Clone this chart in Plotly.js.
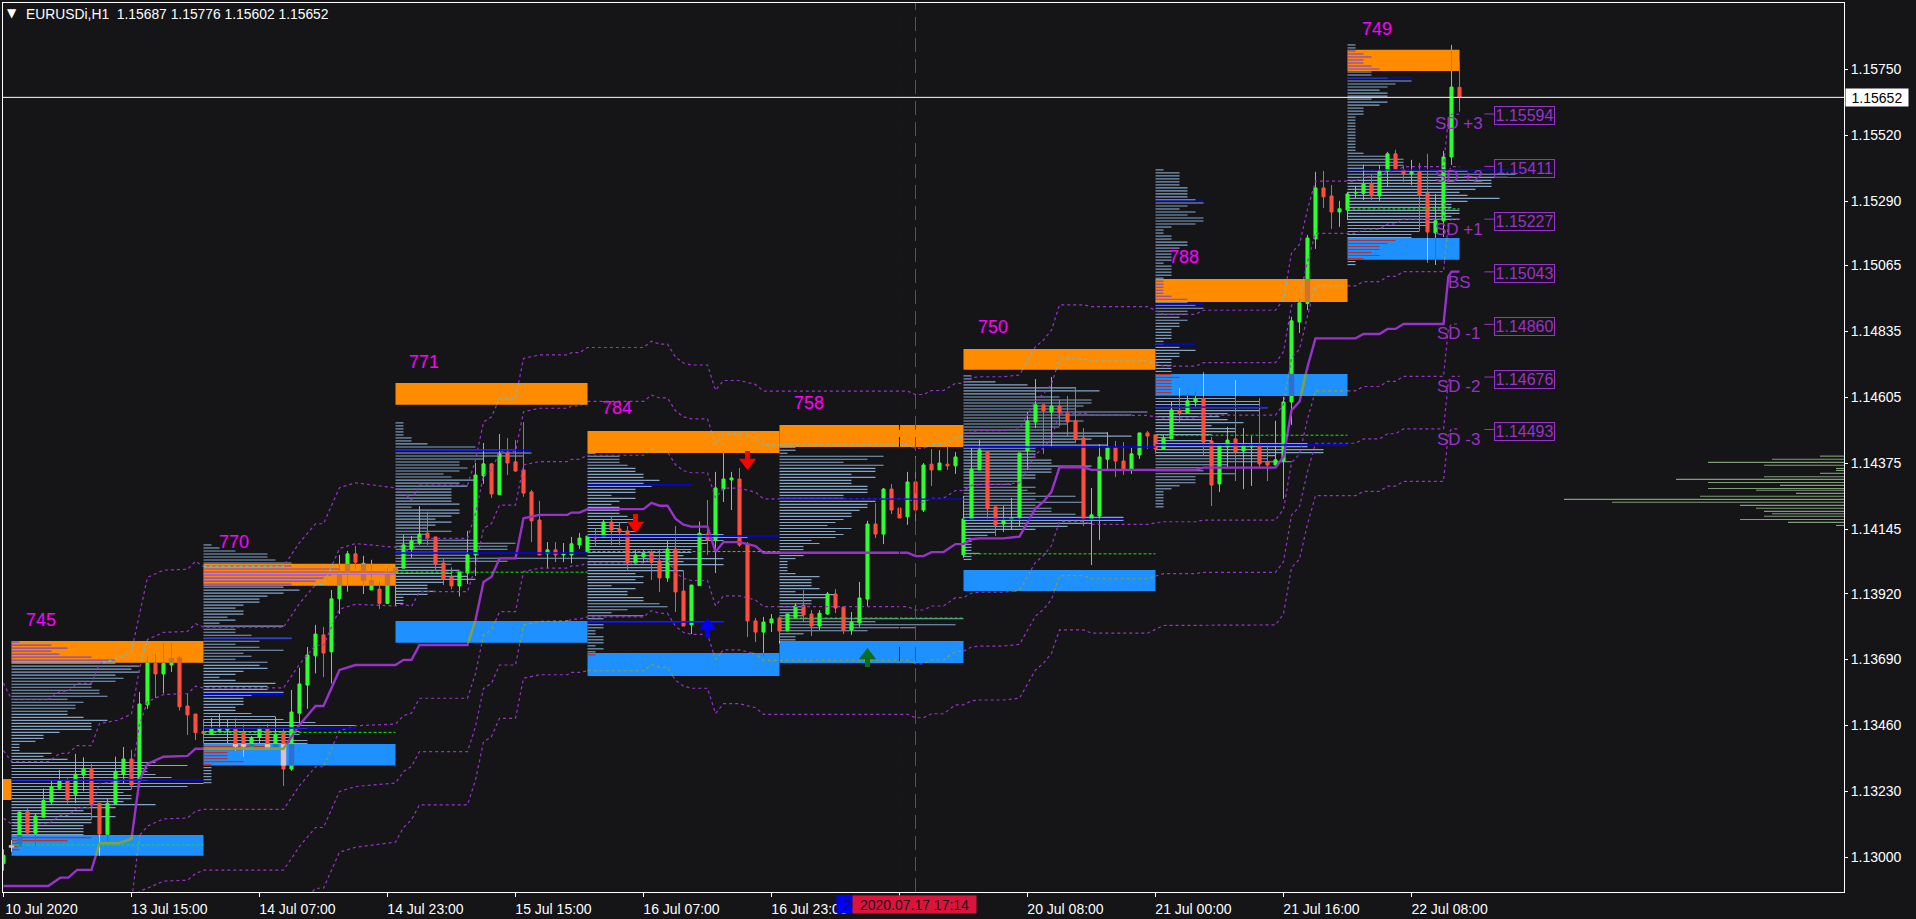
<!DOCTYPE html>
<html><head><meta charset="utf-8"><title>EURUSDi,H1</title>
<script src="https://cdn.plot.ly/plotly-3.0.1.min.js"></script>
<style>html,body{margin:0;padding:0;background:#151518;overflow:hidden}#chart{width:1916px;height:919px}</style>
</head><body><div id="chart"></div>
<script>
const open=[1.12978,1.13042,1.13037,1.13159,1.13084,1.13140,1.13193,1.13241,1.13268,1.13220,
1.13287,1.13309,1.13188,1.13080,1.13188,1.13290,1.13343,1.13270,1.13532,1.13676,
1.13640,1.13671,1.13696,1.13528,1.13500,1.13439,1.13430,1.13443,1.13444,1.13448,
1.13435,1.13386,1.13418,1.13448,1.13383,1.13435,1.13308,1.13503,1.13601,1.13703,
1.13776,1.13717,1.13902,1.13989,1.14059,1.13964,1.13933,1.13936,1.13886,1.13991,
1.14009,1.14076,1.14096,1.14131,1.14118,1.14027,1.13978,1.13947,1.13992,1.14055,
1.14331,1.14373,1.14265,1.14411,1.14380,1.14352,1.14275,1.14177,1.14059,1.14073,
1.14055,1.14055,1.14090,1.14066,1.14119,1.14118,1.14170,1.14146,1.14139,1.14027,
1.14048,1.14062,1.14034,1.13975,1.14076,1.13929,1.13811,1.13948,1.14128,1.14107,
1.14285,1.14317,1.14320,1.14090,1.13825,1.13786,1.13818,1.13835,1.13790,1.13835,
1.13879,1.13849,1.13807,1.13849,1.13919,1.13873,1.13793,1.13818,1.13901,1.14163,
1.14128,1.14285,1.14219,1.14188,1.14310,1.14212,1.14372,1.14352,1.14372,1.14366,
1.14055,1.14181,1.14352,1.14415,1.14223,1.14163,1.14177,1.14184,1.14418,1.14519,
1.14579,1.14554,1.14575,1.14551,1.14523,1.14463,1.14181,1.14191,1.14389,1.14429,
1.14383,1.14355,1.14404,1.14481,1.14474,1.14425,1.14460,1.14558,1.14551,1.14589,
1.14600,1.14453,1.14303,1.14432,1.14460,1.14418,1.14432,1.14436,1.14380,1.14369,
1.14383,1.14589,1.14868,1.14933,1.15158,1.15336,1.15308,1.15252,1.15259,1.15318,
1.15317,1.15350,1.15308,1.15395,1.15455,1.15399,1.15385,1.15392,1.15317,1.15179,
1.15221,1.15444,1.15687];
const high=[1.13028,1.13060,1.13160,1.13171,1.13154,1.13240,1.13266,1.13305,1.13277,1.13361,
1.13349,1.13326,1.13188,1.13204,1.13351,1.13385,1.13375,1.13577,1.13703,1.13710,
1.13747,1.13747,1.13703,1.13572,1.13500,1.13482,1.13486,1.13503,1.13483,1.13485,
1.13464,1.13423,1.13455,1.13465,1.13490,1.13447,1.13584,1.13662,1.13734,1.13811,
1.13804,1.13933,1.14055,1.14069,1.14087,1.14052,1.14038,1.13962,1.14009,1.14009,
1.14125,1.14121,1.14226,1.14206,1.14118,1.14045,1.14012,1.13996,1.14139,1.14376,
1.14446,1.14376,1.14477,1.14463,1.14456,1.14519,1.14282,1.14244,1.14100,1.14100,
1.14097,1.14118,1.14132,1.14121,1.14147,1.14177,1.14188,1.14167,1.14156,1.14072,
1.14072,1.14072,1.14072,1.14107,1.14156,1.13999,1.13950,1.14172,1.14247,1.14345,
1.14417,1.14345,1.14359,1.14100,1.13835,1.13839,1.13849,1.13840,1.13849,1.13887,
1.13933,1.13863,1.13863,1.13926,1.13936,1.13877,1.13856,1.13961,1.14174,1.14236,
1.14289,1.14303,1.14247,1.14345,1.14400,1.14376,1.14425,1.14421,1.14435,1.14414,
1.14261,1.14429,1.14456,1.14415,1.14223,1.14226,1.14254,1.14411,1.14554,1.14669,
1.14579,1.14676,1.14596,1.14610,1.14641,1.14498,1.14289,1.14442,1.14484,1.14453,
1.14449,1.14429,1.14481,1.14488,1.14474,1.14474,1.14589,1.14638,1.14620,1.14624,
1.14694,1.14467,1.14436,1.14502,1.14666,1.14498,1.14470,1.14603,1.14446,1.14523,
1.14607,1.14886,1.14952,1.15172,1.15392,1.15395,1.15346,1.15291,1.15322,1.15343,
1.15417,1.15385,1.15416,1.15462,1.15469,1.15413,1.15434,1.15423,1.15455,1.15315,
1.15465,1.15835,1.15776];
const low=[1.12953,1.13020,1.13034,1.13078,1.13037,1.13140,1.13183,1.13235,1.13187,1.13189,
1.13231,1.13134,1.13005,1.13055,1.13188,1.13258,1.13238,1.13258,1.13518,1.13556,
1.13572,1.13647,1.13512,1.13427,1.13409,1.13398,1.13430,1.13439,1.13398,1.13372,
1.13351,1.13386,1.13398,1.13383,1.13383,1.13249,1.13302,1.13468,1.13518,1.13642,
1.13629,1.13607,1.13849,1.13927,1.14006,1.13919,1.13933,1.13867,1.13886,1.13877,
1.14009,1.14045,1.14090,1.14090,1.13999,1.13950,1.13935,1.13910,1.13954,1.13982,
1.14303,1.14254,1.14265,1.14334,1.14345,1.14258,1.14100,1.14055,1.14009,1.14030,
1.14030,1.14026,1.14076,1.14066,1.14084,1.14114,1.14090,1.14090,1.13999,1.14020,
1.14027,1.13968,1.13926,1.13961,1.13856,1.13807,1.13779,1.13948,1.14055,1.13992,
1.14240,1.14212,1.14083,1.13769,1.13751,1.13702,1.13786,1.13747,1.13790,1.13832,
1.13821,1.13772,1.13793,1.13846,1.13852,1.13779,1.13776,1.13804,1.13877,1.14114,
1.14093,1.14198,1.14184,1.14160,1.14160,1.14205,1.14296,1.14352,1.14352,1.14338,
1.14045,1.14181,1.14352,1.14181,1.14121,1.14135,1.14142,1.14156,1.14352,1.14498,
1.14408,1.14432,1.14505,1.14467,1.14446,1.14156,1.14020,1.14107,1.14355,1.14327,
1.14334,1.14338,1.14390,1.14425,1.14408,1.14425,1.14460,1.14516,1.14551,1.14572,
1.14401,1.14226,1.14275,1.14359,1.14313,1.14285,1.14296,1.14359,1.14313,1.14369,
1.14251,1.14509,1.14830,1.14910,1.15123,1.15266,1.15193,1.15200,1.15224,1.15301,
1.15294,1.15294,1.15291,1.15339,1.15399,1.15357,1.15346,1.15186,1.15074,1.15067,
1.15165,1.15416,1.15602];
const close=[1.13007,1.13034,1.13158,1.13085,1.13144,1.13198,1.13247,1.13268,1.13201,1.13290,
1.13309,1.13183,1.13081,1.13188,1.13300,1.13343,1.13252,1.13535,1.13678,1.13640,
1.13676,1.13696,1.13525,1.13497,1.13435,1.13432,1.13448,1.13448,1.13448,1.13386,
1.13386,1.13418,1.13448,1.13383,1.13429,1.13308,1.13507,1.13605,1.13706,1.13779,
1.13713,1.13902,1.13991,1.14059,1.14030,1.14026,1.13968,1.13886,1.13996,1.14009,
1.14090,1.14104,1.14128,1.14114,1.14024,1.13970,1.13947,1.13996,1.14055,1.14334,
1.14373,1.14268,1.14408,1.14376,1.14348,1.14271,1.14174,1.14055,1.14073,1.14055,
1.14059,1.14094,1.14114,1.14121,1.14114,1.14170,1.14142,1.14135,1.14027,1.14055,
1.14061,1.14030,1.13975,1.14076,1.13926,1.13807,1.13950,1.14131,1.14107,1.14289,
1.14320,1.14324,1.14090,1.13825,1.13786,1.13821,1.13832,1.13790,1.13849,1.13877,
1.13846,1.13807,1.13852,1.13919,1.13870,1.13793,1.13821,1.13905,1.14163,1.14128,
1.14285,1.14212,1.14184,1.14310,1.14212,1.14369,1.14352,1.14376,1.14366,1.14397,
1.14181,1.14355,1.14422,1.14216,1.14160,1.14177,1.14184,1.14411,1.14523,1.14579,
1.14558,1.14575,1.14551,1.14519,1.14460,1.14181,1.14195,1.14397,1.14429,1.14383,
1.14355,1.14408,1.14481,1.14470,1.14425,1.14463,1.14561,1.14551,1.14593,1.14600,
1.14449,1.14299,1.14436,1.14456,1.14415,1.14436,1.14436,1.14373,1.14369,1.14387,
1.14589,1.14872,1.14935,1.15161,1.15336,1.15305,1.15252,1.15263,1.15315,1.15320,
1.15350,1.15308,1.15395,1.15455,1.15402,1.15385,1.15392,1.15310,1.15182,1.15221,
1.15444,1.15688,1.15652];

const tickBars=[0,16,32,48,64,80,96,112,128,144,160,176];
const tickDates=['10 Jul 2020','13 Jul 15:00','14 Jul 07:00','14 Jul 23:00','15 Jul 15:00','16 Jul 07:00','16 Jul 23:00','','20 Jul 08:00','21 Jul 00:00','21 Jul 16:00','22 Jul 08:00'];
const priceTicks=[1.13,1.1323,1.1346,1.1369,1.1392,1.14145,1.14375,1.14605,1.14835,1.15065,1.1529,1.1552,1.1575];
const priceTickText=['1.13000','1.13230','1.13460','1.13690','1.13920','1.14145','1.14375','1.14605','1.14835','1.15065','1.15290','1.15520','1.15750'];

const sessionFrom=[1,25,49,73,97,120,144,168];
const sessionTo=[25,49,73,97,120,144,168,182];
const sessionCount=['745','770','771','784','758','750','788','749'];
const countBar=[4.65,28.75,52.6,76.7,100.65,123.7,147.5,171.7];
const countPrice=[1.13828,1.14100,1.14729,1.14568,1.14584,1.14851,1.15095,1.15891];
const orangeTop=[1.13755,1.14024,1.14655,1.14488,1.14509,1.14774,1.15018,1.15818];
const orangeBottom=[1.13679,1.13948,1.14579,1.14411,1.14432,1.14701,1.14938,1.15744];
const blueTop=[1.13078,1.13395,1.13825,1.13713,1.13755,1.14003,1.14687,1.15161];
const blueBottom=[1.13005,1.13320,1.13749,1.13633,1.13678,1.13929,1.14610,1.15085];
const previousOrange=[1.13273,1.13200];

const vwapBars=[0,1,5.6,7.1,8.1,9.2,11,12,14.4,16,17,18,20,23,24,25,35,37,39,40,42,44,49,50,51,52,58,59,60,61,62,64,65,67,70.5,71,72,73,80,81,82,83,84,85,86,88,89,90,92,94,95,113,114,115,116,117.5,119,120,121,122,125,127,129,130,131,132,135,136,143,145,149,150,159,160,161,162,163,164,169,170,172,173,174,175,180,180.6,181,182];
const vwap=[1.12900,1.12900,1.12900,1.12929,1.12929,1.12956,1.12956,1.13049,1.13049,1.13064,
1.13270,1.13326,1.13351,1.13354,1.13379,1.13379,1.13379,1.13462,1.13528,1.13528,
1.13654,1.13671,1.13671,1.13689,1.13689,1.13741,1.13741,1.13828,1.13961,1.13979,
1.14043,1.14043,1.14183,1.14195,1.14195,1.14203,1.14203,1.14215,1.14215,1.14237,
1.14227,1.14227,1.14182,1.14161,1.14154,1.14154,1.14066,1.14100,1.14100,1.14086,
1.14063,1.14063,1.14051,1.14051,1.14065,1.14065,1.14093,1.14093,1.14110,1.14113,
1.14113,1.14119,1.14218,1.14241,1.14276,1.14361,1.14361,1.14352,1.14352,1.14352,
1.14352,1.14360,1.14360,1.14398,1.14560,1.14590,1.14712,1.14811,1.14811,1.14826,
1.14826,1.14844,1.14844,1.14861,1.14861,1.15026,1.15044,1.15044];
const sdPlus1=[1.13136,1.13117,1.13117,1.13146,1.13146,1.13173,1.13173,1.13258,1.13264,1.13282,
1.13464,1.13543,1.13568,1.13571,1.13597,1.13591,1.13591,1.13674,1.13740,1.13740,
1.13866,1.13883,1.13877,1.13884,1.13875,1.13927,1.13927,1.14014,1.14147,1.14165,
1.14229,1.14229,1.14369,1.14381,1.14381,1.14389,1.14389,1.14403,1.14403,1.14425,
1.14415,1.14415,1.14370,1.14349,1.14342,1.14342,1.14254,1.14288,1.14288,1.14274,
1.14251,1.14251,1.14239,1.14239,1.14253,1.14253,1.14280,1.14280,1.14298,1.14301,
1.14301,1.14307,1.14406,1.14429,1.14464,1.14550,1.14550,1.14542,1.14542,1.14533,
1.14533,1.14543,1.14543,1.14581,1.14743,1.14773,1.14895,1.14994,1.14994,1.15009,
1.15009,1.15027,1.15027,1.15044,1.15044,1.15209,1.15227,1.15227];
const sdPlus2=[1.13372,1.13334,1.13334,1.13363,1.13363,1.13390,1.13390,1.13467,1.13479,1.13500,
1.13658,1.13760,1.13785,1.13788,1.13815,1.13803,1.13803,1.13886,1.13952,1.13952,
1.14078,1.14095,1.14083,1.14079,1.14061,1.14113,1.14113,1.14200,1.14333,1.14351,
1.14415,1.14415,1.14555,1.14567,1.14567,1.14575,1.14575,1.14591,1.14591,1.14613,
1.14603,1.14603,1.14558,1.14537,1.14530,1.14530,1.14442,1.14476,1.14476,1.14462,
1.14439,1.14439,1.14427,1.14427,1.14441,1.14441,1.14467,1.14467,1.14486,1.14489,
1.14489,1.14495,1.14594,1.14617,1.14652,1.14739,1.14739,1.14732,1.14732,1.14714,
1.14714,1.14726,1.14726,1.14764,1.14926,1.14956,1.15078,1.15177,1.15177,1.15192,
1.15192,1.15210,1.15210,1.15227,1.15227,1.15392,1.15410,1.15410];
const sdPlus3=[1.13608,1.13551,1.13551,1.13580,1.13580,1.13607,1.13607,1.13676,1.13694,1.13718,
1.13852,1.13977,1.14002,1.14005,1.14033,1.14015,1.14015,1.14098,1.14164,1.14164,
1.14290,1.14307,1.14289,1.14274,1.14247,1.14299,1.14299,1.14386,1.14519,1.14537,
1.14601,1.14601,1.14741,1.14753,1.14753,1.14761,1.14761,1.14779,1.14779,1.14801,
1.14791,1.14791,1.14746,1.14725,1.14718,1.14718,1.14630,1.14664,1.14664,1.14650,
1.14627,1.14627,1.14615,1.14615,1.14629,1.14629,1.14654,1.14654,1.14674,1.14677,
1.14677,1.14683,1.14782,1.14805,1.14840,1.14928,1.14928,1.14922,1.14922,1.14895,
1.14895,1.14909,1.14909,1.14947,1.15109,1.15139,1.15261,1.15360,1.15360,1.15375,
1.15375,1.15393,1.15393,1.15410,1.15410,1.15575,1.15593,1.15593];
const sdMinus1=[1.12664,1.12683,1.12683,1.12712,1.12712,1.12739,1.12739,1.12840,1.12834,1.12846,
1.13076,1.13109,1.13134,1.13137,1.13161,1.13167,1.13167,1.13250,1.13316,1.13316,
1.13442,1.13459,1.13465,1.13494,1.13503,1.13555,1.13555,1.13642,1.13775,1.13793,
1.13857,1.13857,1.13997,1.14009,1.14009,1.14017,1.14017,1.14027,1.14027,1.14049,
1.14039,1.14039,1.13994,1.13973,1.13966,1.13966,1.13878,1.13912,1.13912,1.13898,
1.13875,1.13875,1.13863,1.13863,1.13877,1.13877,1.13906,1.13906,1.13922,1.13925,
1.13925,1.13931,1.14030,1.14053,1.14088,1.14172,1.14172,1.14162,1.14162,1.14171,
1.14171,1.14177,1.14177,1.14215,1.14377,1.14407,1.14529,1.14628,1.14628,1.14643,
1.14643,1.14661,1.14661,1.14678,1.14678,1.14843,1.14861,1.14861];
const sdMinus2=[1.12428,1.12466,1.12466,1.12495,1.12495,1.12522,1.12522,1.12631,1.12619,1.12628,
1.12882,1.12892,1.12917,1.12920,1.12943,1.12955,1.12955,1.13038,1.13104,1.13104,
1.13230,1.13247,1.13259,1.13299,1.13317,1.13369,1.13369,1.13456,1.13589,1.13607,
1.13671,1.13671,1.13811,1.13823,1.13823,1.13831,1.13831,1.13839,1.13839,1.13861,
1.13851,1.13851,1.13806,1.13785,1.13778,1.13778,1.13690,1.13724,1.13724,1.13710,
1.13687,1.13687,1.13675,1.13675,1.13689,1.13689,1.13719,1.13719,1.13734,1.13737,
1.13737,1.13743,1.13842,1.13865,1.13900,1.13983,1.13983,1.13972,1.13972,1.13990,
1.13990,1.13994,1.13994,1.14032,1.14194,1.14224,1.14346,1.14445,1.14445,1.14460,
1.14460,1.14478,1.14478,1.14495,1.14495,1.14660,1.14678,1.14678];
const sdMinus3=[1.12192,1.12249,1.12249,1.12278,1.12278,1.12305,1.12305,1.12422,1.12404,1.12410,
1.12688,1.12675,1.12700,1.12703,1.12725,1.12743,1.12743,1.12826,1.12892,1.12892,
1.13018,1.13035,1.13053,1.13104,1.13131,1.13183,1.13183,1.13270,1.13403,1.13421,
1.13485,1.13485,1.13625,1.13637,1.13637,1.13645,1.13645,1.13651,1.13651,1.13673,
1.13663,1.13663,1.13618,1.13597,1.13590,1.13590,1.13502,1.13536,1.13536,1.13522,
1.13499,1.13499,1.13487,1.13487,1.13501,1.13501,1.13532,1.13532,1.13546,1.13549,
1.13549,1.13555,1.13654,1.13677,1.13712,1.13794,1.13794,1.13782,1.13782,1.13809,
1.13809,1.13811,1.13811,1.13849,1.14011,1.14041,1.14163,1.14262,1.14262,1.14277,
1.14277,1.14295,1.14295,1.14312,1.14312,1.14477,1.14495,1.14495];

const profileTop=[1.13751,1.14090,1.14516,1.14410,1.14431,1.14680,1.15399,1.15835];
const profile1=[1,5,7,5,6,10,13,13,16,15,16,13,14,13,10,10,11,11,12,7,9,8,8,7,7,9,12,10,10,10,6,4,4,3,1,1,1,5,4,7,18,22,17,17,18,20,17,24,22,15,14,15,15,14,18,13,9,10,13,10,10,9,9,9,9,10,7,1,1,1];
const profile2=[1,2,4,8,8,9,11,11,17,24,16,15,14,11,10,12,10,8,7,7,5,4,5,5,3,4,2,10,4,4,6,11,7,4,7,10,5,6,4,8,7,8,5,4,2,4,9,8,8,10,6,5,5,5,4,4,6,9,10,14,19,13,12,12,11,13,13,8,5,3,3,3,5,1,1,1,1,1,1,1];
const profile3=[1,1,1,1,1,2,2,4,10,15,17,16,11,8,8,9,8,6,7,10,8,9,7,7,7,7,7,8,2,8,8,7,5,7,5,4,7,4,3,10,15,14,14,9,9,24,14,7,6,8,7,9,10,6,4,4,5,4,1,1,1];
const profile4=[1,4,4,4,5,6,6,7,7,9,7,8,6,6,3,6,4,3,4,4,4,5,6,7,4,4,6,17,20,17,15,14,13,13,12,17,12,17,10,12,6,7,6,7,3,6,5,5,7,7,9,10,5,3,7,2,17,2,2,1,1,2,2,2,1,2,1,1];
const profile5=[2,2,1,13,11,8,13,12,12,9,12,9,9,11,11,11,8,8,12,11,11,10,9,9,8,7,6,9,7,8,7,4,5,3,3,3,3,2,1,1,1,1,2,5,4,4,4,5,2,7,6,4,4,3,3,3,3,23,12,22,17,11,3,2,2];
const profile6=[1,1,4,8,14,17,9,12,16,16,15,14,23,21,13,15,13,12,11,18,21,16,14,18,9,9,9,9,11,11,16,11,11,9,9,7,6,9,8,9,14,9,15,9,11,11,14,20,20,16,13,9,4,3,1,1,1,1,1,2,1,1];
const profile7=[1,3,3,3,3,3,4,4,4,4,5,6,4,3,5,4,6,6,5,2,1,1,2,2,4,4,3,2,2,2,2,1,2,2,2,2,1,1,1,1,1,1,2,4,4,5,6,4,4,3,4,3,3,2,2,2,2,1,1,3,5,3,3,2,2,2,2,2,2,3,2,2,2,2,2,5,10,13,13,14,13,9,8,9,11,7,10,10,7,2,7,19,19,21,21,15,14,17,9,6,6,10,5,5,5,3,2,1,1,1,1,1,1];
const profile8=[1,1,1,2,3,2,2,3,4,3,3,5,8,6,5,4,5,5,3,5,4,2,2,2,1,1,1,1,1,1,1,1,1,1,1,1,2,5,7,7,7,2,15,21,20,18,18,18,16,14,15,19,15,13,13,14,14,13,14,11,10,9,9,8,8,6,5,4,4,3,4,2,1,1];
const profiles=[profile1,profile2,profile3,profile4,profile5,profile6,profile7,profile8];

const rightProfilePrice=[1.14400,1.14389,1.14378,1.14368,1.14357,1.14350,1.14340,1.14328,1.14319,1.14308,1.14298,1.14287,1.14281,1.14270,1.14260,1.14249,1.14239,1.14228,1.14218,1.14207,1.14199,1.14190,1.14179,1.14169,1.14158];
const rightProfileLen=[3,9,17,10,1,1,3,10,21,17,8,17,11,6,18,35,29,13,11,10,9,10,13,7,1];

const levelPrice=[1.13270,1.13761,1.13569,1.13451,1.13989,1.14421,1.14062,1.14299,1.14121,1.13821,1.14250,1.14432,1.14180,1.15290,1.14931,1.14791,1.14571,1.14439,1.15720,1.15399];
const levelFrom=[1,25,25,25,25,49,49,73,73,73,97,120,120,144,144,144,144,144,168,168];
const levelTo=[25,36,35,44,49,66,73,86,97,90,120,144,140,150,150,149,158,168,176,190];
const modePrice=[1.13043,1.13436,1.13995,1.14067,1.13835,1.14059,1.14473,1.15263];

const sdValues=[1.15594,1.15411,1.15227,1.15043,1.14860,1.14676,1.14493];
const sdNames=['SD +3','SD +2','SD +1','BS','SD -1','SD -2','SD -3'];
const sdNamePrice=[1.15563,1.15378,1.15196,1.15011,1.14830,1.14645,1.14463];
const signalBar=[79,93,88,108];
const signalTip=[1.14132,1.14352,1.13835,1.13730];
const signalTail=[1.14198,1.14418,1.13769,1.13664];
const signalHead=[1.14158,1.14378,1.13809,1.13704];
const signalColor=['#FF0000','#FF0000','#0000FF','#0A6E1E'];
const signalSymbol=['triangle-down','triangle-down','triangle-up','triangle-up'];
const lastPrice=1.15652;

const GREEN='#2FFF2F',RED='#FF4F3C',PURPLE='#9932CC',ORANGE='#FF8C00',BLUE='#1E90FF',BG='#151518';
const xMin=-0.0625,xMax=230.06,yMin=1.128789,yMax=1.159813;

const rects=[{x0:-1,x1:1,y0:previousOrange[1],y1:previousOrange[0],kind:'orange'}];
sessionFrom.forEach((f,i)=>{
  rects.push({x0:f,x1:sessionTo[i],y0:orangeBottom[i],y1:orangeTop[i],kind:'orange'});
  rects.push({x0:f,x1:sessionTo[i],y0:blueBottom[i],y1:blueTop[i],kind:'blue'});
});
const shapes=rects.map(r=>({type:'rect',layer:'below',xref:'x',yref:'y',x0:r.x0,x1:r.x1,y0:r.y0,y1:r.y1,fillcolor:r.kind==='orange'?ORANGE:BLUE,line:{width:0}}));

function clipT(a,b,r){let t0=0,t1=1;const dx=b[0]-a[0],dy=b[1]-a[1];
  for(const [p,q] of [[-dx,a[0]-r.x0],[dx,r.x1-a[0]],[-dy,a[1]-r.y0],[dy,r.y1-a[1]]]){
    if(p===0){if(q<0)return null;}else{const t=q/p;if(p<0){if(t>t1)return null;if(t>t0)t0=t;}else{if(t<t0)return null;if(t<t1)t1=t;}}
  }return [t0,t1];}
function emptySplit(){return {out:{x:[],y:[]},orange:{x:[],y:[]},blue:{x:[],y:[]}};}
function splitLine(xs,ys,res){
  for(let i=0;i+1<xs.length;i++){
    const a=[xs[i],ys[i]],b=[xs[i+1],ys[i+1]];let ts=[0,1];
    rects.forEach(r=>{const c=clipT(a,b,r);if(c)ts.push(c[0],c[1]);});
    ts.sort((m,n)=>m-n);
    for(let k=0;k+1<ts.length;k++){
      if(ts[k+1]-ts[k]<1e-9)continue;
      const at=t=>[a[0]+(b[0]-a[0])*t,a[1]+(b[1]-a[1])*t];
      const s=at(ts[k]),e=at(ts[k+1]),m=at((ts[k]+ts[k+1])/2);
      const hit=rects.find(r=>m[0]>=r.x0&&m[0]<=r.x1&&m[1]>=r.y0&&m[1]<=r.y1);
      const d=res[hit?hit.kind:'out'];const n=d.x.length;
      if(!n||d.x[n-1]===null||Math.abs(d.x[n-1]-s[0])>1e-9||Math.abs(d.y[n-1]-s[1])>1e-9){if(n){d.x.push(null);d.y.push(null);}d.x.push(s[0]);d.y.push(s[1]);}
      d.x.push(e[0]);d.y.push(e[1]);
    }
  }
  ['out','orange','blue'].forEach(k=>{if(res[k].x.length){res[k].x.push(null);res[k].y.push(null);}});
  return res;
}
const mainSplit=splitLine(vwapBars,vwap,emptySplit());
const bandSplit=emptySplit();
[sdPlus1,sdPlus2,sdPlus3,sdMinus1,sdMinus2,sdMinus3].forEach(b=>splitLine(vwapBars,b,bandSplit));

// profile rows as horizontal bars, tinted where they cross a session box
const rowY=[],rowN=[],rowBase=[],rowC=[];
profiles.forEach((p,s)=>p.forEach((n,j)=>{
  const y=profileTop[s]-j*0.000105;
  rowY.push(y);rowN.push(n);rowBase.push(sessionFrom[s]);
  rowC.push(y<=orangeTop[s]&&y>=orangeBottom[s]?'#7B45D6':(y<=blueTop[s]&&y>=blueBottom[s]?'#B83030':'#84A5C8'));
}));

// candle parts inside a box, drawn in the tint the box gives them
const tint={orange:{up:'#CD7332',down:'#D8642A'},blue:{up:'#2C6FCD',down:'#E1C0C3'}};
const parts={};
function addPart(key,i,lo,hi){(parts[key]=parts[key]||{x:[],y:[]});parts[key].x.push(i,i,null);parts[key].y.push(lo,hi,null);}
open.forEach((o,i)=>{
  const c=close[i],dir=c>=o?'up':'down';
  rects.forEach(r=>{
    if(i<r.x0||i>r.x1)return;
    const wl=Math.max(low[i],r.y0),wh=Math.min(high[i],r.y1);
    if(wh>wl)addPart('w|'+r.kind+'|'+dir,i,wl,wh);
    const bl=Math.max(Math.min(o,c),r.y0),bh=Math.min(Math.max(o,c),r.y1);
    if(bh>bl)addPart('b|'+r.kind+'|'+dir,i,bl,bh);
  });
});

const traces=[];
traces.push({type:'bar',orientation:'h',y:rowY,x:rowN,base:rowBase,width:0.00004,marker:{color:rowC,line:{width:0}},hoverinfo:'skip',showlegend:false});
traces.push({type:'bar',orientation:'h',y:rightProfilePrice,x:rightProfileLen,base:rightProfileLen.map(n=>xMax-n),width:0.00004,marker:{color:'#7E9C76',line:{width:0}},hoverinfo:'skip',showlegend:false});
traces.push({type:'candlestick',x:open.map((_,i)=>i),open:open,high:high,low:low,close:close,whiskerwidth:0,
  increasing:{line:{color:GREEN,width:1},fillcolor:GREEN},decreasing:{line:{color:RED,width:1},fillcolor:RED},hoverinfo:'skip',showlegend:false});
Object.keys(parts).forEach(k=>{const [t,kind,dir]=k.split('|');
  traces.push({type:'scatter',mode:'lines',x:parts[k].x,y:parts[k].y,line:{color:tint[kind][dir],width:t==='b'?5.4:1},hoverinfo:'skip',showlegend:false});});
function lineTrace(x,y,color,width,dash){return {type:'scatter',mode:'lines',x:x,y:y,line:{color:color,width:width,dash:dash||'solid'},hoverinfo:'skip',showlegend:false};}
traces.push(lineTrace(bandSplit.out.x,bandSplit.out.y,PURPLE,1.2,'3px,3px'));
traces.push(lineTrace(bandSplit.orange.x,bandSplit.orange.y,'#66BECC',1.2,'3px,3px'));
traces.push(lineTrace(bandSplit.blue.x,bandSplit.blue.y,'#87A233',1.2,'3px,3px'));
traces.push(lineTrace(mainSplit.out.x,mainSplit.out.y,PURPLE,2.4));
traces.push(lineTrace(mainSplit.orange.x,mainSplit.orange.y,'#66BECC',2.4));
traces.push(lineTrace(mainSplit.blue.x,mainSplit.blue.y,'#87A233',2.4));
function segments(from,to,price){const x=[],y=[];price.forEach((p,i)=>{x.push(from[i],to[i],null);y.push(p,p,null);});return {x,y};}
const modeSeg=segments(sessionFrom,sessionTo,modePrice);
traces.push(lineTrace(modeSeg.x,modeSeg.y,'#18E018',1,'3px,2px'));
const levelSeg=segments(levelFrom,levelTo,levelPrice);
traces.push(lineTrace(levelSeg.x,levelSeg.y,'#0000FF',1.4));
traces.push(lineTrace([levelFrom[4],levelTo[4]],[levelPrice[4],levelPrice[4]],'#FF8CFF',1.2));
traces.push(lineTrace([112,112],[yMin,yMax],'#0000CD',1,'14px,7px'));
traces.push(lineTrace([114,114],[yMin,yMax],'#DC143C',1,'14px,7px'));
const tickSeg=segments(sdValues.map(()=>185.1),sdValues.map(()=>186.3),sdValues);
traces.push(lineTrace(tickSeg.x,tickSeg.y,PURPLE,1));
signalBar.forEach((b,i)=>{
  traces.push(lineTrace([b,b],[signalTail[i],signalHead[i]],signalColor[i],5));
  traces.push({type:'scatter',mode:'markers',x:[b],y:[signalHead[i]],marker:{symbol:signalSymbol[i],size:15,color:signalColor[i],line:{width:0}},hoverinfo:'skip',showlegend:false});
});
traces.push(lineTrace([xMin,xMax],[lastPrice,lastPrice],'#FFFFFF',1));

const FONT='"Liberation Sans", Arial, sans-serif';
const notes=[];
sessionCount.forEach((t,i)=>notes.push({x:countBar[i],y:countPrice[i],xref:'x',yref:'y',text:t,showarrow:false,font:{family:FONT,size:18,color:'#FF00FF'}}));
sdValues.forEach((v,i)=>{
  notes.push({x:190.06,y:v,xref:'x',yref:'y',yshift:-2,text:v.toFixed(5),showarrow:false,font:{family:FONT,size:16,color:PURPLE},bordercolor:PURPLE,borderwidth:1,borderpad:0,width:59,height:17});
  notes.push({x:sdNames[i]==='BS'?182:181.9,y:sdNamePrice[i],xref:'x',yref:'y',yshift:-1,text:sdNames[i],showarrow:false,font:{family:FONT,size:17,color:PURPLE}});
});
notes.push({x:2.6,y:1.15943,xref:'x',yref:'y',xanchor:'left',text:'EURUSDi,H1\u00A0\u00A01.15687 1.15776 1.15602 1.15652',showarrow:false,font:{family:FONT,size:13.85,color:'#FFFFFF'}});
notes.push({x:1,y:1.15945,xref:'x',yref:'y',text:'▼',showarrow:false,font:{family:'"DejaVu Sans"',size:12,color:'#FFFFFF'}});
notes.push({x:1.01793,y:0.89381,xref:'paper',yref:'paper',xanchor:'center',yanchor:'middle',text:lastPrice.toFixed(5),showarrow:false,bgcolor:'#FFFFFF',font:{family:FONT,size:14,color:'#000000'},width:62,height:17,borderpad:0});
notes.push({x:0.48642,y:-0.01406,xref:'paper',yref:'paper',xanchor:'center',yanchor:'middle',text:'2020.07.17 15:00',showarrow:false,bgcolor:'#0000FF',font:{family:FONT,size:14,color:'#151518'},width:123,height:17,borderpad:0});
notes.push({x:0.49511,y:-0.01406,xref:'paper',yref:'paper',xanchor:'center',yanchor:'middle',text:'2020.07.17 17:14',showarrow:false,bgcolor:'#DC143C',font:{family:FONT,size:14,color:'#151518'},width:123,height:17,borderpad:0});

const layout={width:1916,height:919,margin:{l:3,r:72,t:3,b:27,pad:0},paper_bgcolor:BG,plot_bgcolor:BG,showlegend:false,hovermode:false,barmode:'overlay',boxgap:0.45,dragmode:false,
  font:{family:FONT,size:14,color:'#FFFFFF'},shapes:shapes,annotations:notes,
  xaxis:{type:'linear',range:[xMin,xMax],tickmode:'array',tickvals:tickBars,ticktext:tickDates,ticks:'outside',ticklen:4,tickcolor:'#FFFFFF',tickwidth:1,ticklabelshift:38,ticklabeloverflow:'allow',
    showgrid:false,zeroline:false,showline:true,mirror:true,linecolor:'#FFFFFF',linewidth:1,rangeslider:{visible:false},tickfont:{family:FONT,size:14,color:'#FFFFFF'},fixedrange:true},
  yaxis:{type:'linear',side:'right',range:[yMin,yMax],tickmode:'array',tickvals:priceTicks,ticktext:priceTickText,ticks:'outside',ticklen:3,tickcolor:'#FFFFFF',tickwidth:1,
    showgrid:false,zeroline:false,showline:true,mirror:true,linecolor:'#FFFFFF',linewidth:1,tickfont:{family:FONT,size:14,color:'#FFFFFF'},fixedrange:true}};
Plotly.newPlot('chart',traces,layout,{staticPlot:true,displayModeBar:false});
</script></body></html>
